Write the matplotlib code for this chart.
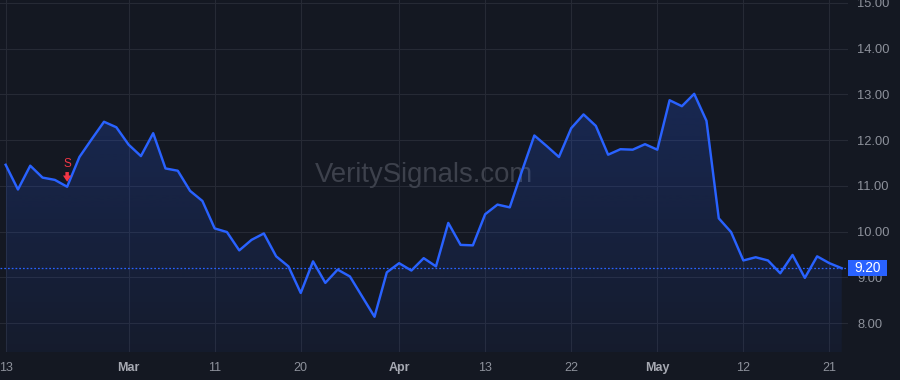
import matplotlib
matplotlib.use('Agg')
import matplotlib.pyplot as plt
import matplotlib.colors as mcolors
import numpy as np
from matplotlib.transforms import blended_transform_factory
from matplotlib.patches import Rectangle

plt.rcParams['font.family'] = ['Liberation Sans', 'DejaVu Sans']

# ---------------- data ----------------
prices = [11.46, 10.92, 11.44, 11.18, 11.13, 10.98, 11.63, 12.02, 12.40, 12.28,
          11.90, 11.65, 12.15, 11.38, 11.33, 10.89, 10.67, 10.07, 9.99, 9.59,
          9.82, 9.96, 9.46, 9.24, 8.66, 9.35, 8.88, 9.17, 9.02, 8.58,
          8.14, 9.11, 9.31, 9.15, 9.42, 9.24, 10.19, 9.71, 9.70, 10.38,
          10.59, 10.53, 11.33, 12.10, 11.87, 11.63, 12.26, 12.56, 12.31, 11.68,
          11.80, 11.79, 11.91, 11.79, 12.87, 12.74, 13.01, 12.42, 10.29, 9.99,
          9.37, 9.44, 9.37, 9.09, 9.49, 8.99, 9.46, 9.31, 9.20]
tick_idx = [0, 10, 17, 24, 32, 39, 46, 53, 60, 67]
tick_labels = ['13', 'Mar', '11', '20', 'Apr', '13', '22', 'May', '12', '21']
month_labels = ['Mar', 'Apr', 'May']
y_ticks = [8, 9, 10, 11, 12, 13, 14, 15]
last_price = 9.20
signal_idx = 5
signal_label = 'S'
watermark = 'VeritySignals.com'

# ---------------- style ----------------
BG = '#141822'
GRID = '#262a35'
LINE = '#2962ff'
TXT = '#8d919b'
MONTH_TXT = '#a6a9b2'
RED = '#f23645'
WM = '#3d414c'

fig = plt.figure(figsize=(9, 3.8), dpi=100, facecolor=BG)
ax = fig.add_axes([0, 28 / 380, 848 / 900, 352 / 380])
ax.set_facecolor(BG)
for s in ax.spines.values():
    s.set_visible(False)

x = np.arange(len(prices))
y = np.array(prices)
ymin, ymax = 7.37, 15.06
xmin, xmax = -0.46, 68.51

# gradient area fill
poly = ax.fill_between(x, y, ymin, facecolor='none', lw=0)
grad = np.zeros((256, 1, 4))
grad[:, :, :3] = mcolors.to_rgb(LINE)
grad[:, 0, 3] = np.linspace(0.05, 0.22, 256)
im = ax.imshow(grad, extent=[x[0], x[-1], ymin, y.max()], origin='lower',
               aspect='auto', zorder=1)
im.set_clip_path(poly.get_paths()[0], ax.transData)
ax.set_xlim(xmin, xmax)
ax.set_ylim(ymin, ymax)

# line
ax.plot(x, y, color=LINE, lw=1.75, zorder=3)

# last price dotted line
ax.axhline(last_price, color=LINE, lw=0.9, ls=(0, (1.4, 1.6)), zorder=2)

# grid & ticks
ax.set_axisbelow(True)
ax.grid(True, color=GRID, lw=0.8)
ax.set_xticks(tick_idx)
ax.set_xticklabels(tick_labels)
ax.set_yticks(y_ticks)
ax.set_yticklabels([f'{v:.2f}' for v in y_ticks])
ax.yaxis.tick_right()
ax.tick_params(axis='y', length=0, pad=6.5, labelsize=9.3, labelcolor=TXT)
ax.tick_params(axis='x', length=0, pad=7, labelsize=9, labelcolor=TXT)
for lbl in ax.get_xticklabels():
    if lbl.get_text() in month_labels:
        lbl.set_fontweight('bold')
        lbl.set_color(MONTH_TXT)

# watermark
ax.text(0.5, 0.482, watermark, transform=ax.transAxes, ha='center',
        va='baseline', fontsize=19.8, color=WM, zorder=0.8)

# sell signal
ax.annotate('', xy=(signal_idx, prices[signal_idx]), xytext=(0, 10.6),
            textcoords='offset points',
            arrowprops=dict(arrowstyle='simple,head_length=0.45,head_width=0.6,tail_width=0.25',
                            fc=RED, ec='none', shrinkA=0, shrinkB=3.6), zorder=5)
ax.annotate(signal_label, xy=(signal_idx, prices[signal_idx]), xytext=(0, 16.7),
            textcoords='offset points', ha='center', va='center',
            color=RED, fontsize=8.5, zorder=5)

# price label box
tr = blended_transform_factory(ax.transAxes, ax.transData)
box_w = 39 / 848
box_h = 16 / 45.5
ax.add_patch(Rectangle((1.0, last_price - box_h / 2), box_w, box_h, transform=tr,
                       facecolor=LINE, edgecolor='none', clip_on=False, zorder=10))
ax.text(1.0 + box_w / 2, last_price, f'{last_price:.2f}', transform=tr,
        ha='center', va='center', color='white', fontsize=9.8, zorder=11,
        clip_on=False)

fig.savefig('out.png', dpi=100, facecolor=BG)
